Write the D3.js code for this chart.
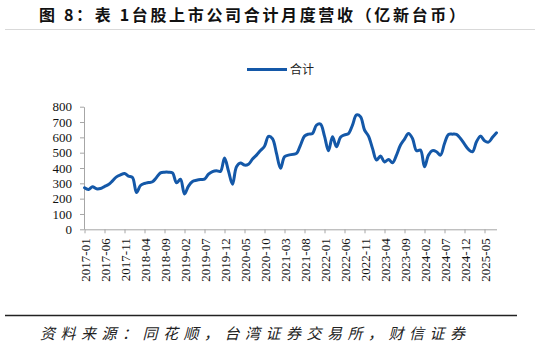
<!DOCTYPE html>
<html><head><meta charset="utf-8">
<script src="https://cdn.jsdelivr.net/npm/d3@7/dist/d3.min.js"></script>
<style>body{margin:0;background:#fff}svg{display:block}
.ax text{font-family:'Liberation Serif','Times New Roman',serif !important;font-size:13px}</style>
</head><body>
<svg id="c" width="539" height="347"></svg>
<script>
const months = ["2017-01","2017-02","2017-03","2017-04","2017-05","2017-06","2017-07","2017-08","2017-09","2017-10","2017-11","2017-12",
"2018-01","2018-02","2018-03","2018-04","2018-05","2018-06","2018-07","2018-08","2018-09","2018-10","2018-11","2018-12",
"2019-01","2019-02","2019-03","2019-04","2019-05","2019-06","2019-07","2019-08","2019-09","2019-10","2019-11","2019-12",
"2020-01","2020-02","2020-03","2020-04","2020-05","2020-06","2020-07","2020-08","2020-09","2020-10","2020-11","2020-12",
"2021-01","2021-02","2021-03","2021-04","2021-05","2021-06","2021-07","2021-08","2021-09","2021-10","2021-11","2021-12",
"2022-01","2022-02","2022-03","2022-04","2022-05","2022-06","2022-07","2022-08","2022-09","2022-10","2022-11","2022-12",
"2023-01","2023-02","2023-03","2023-04","2023-05","2023-06","2023-07","2023-08","2023-09","2023-10","2023-11","2023-12",
"2024-01","2024-02","2024-03","2024-04","2024-05","2024-06","2024-07","2024-08","2024-09","2024-10","2024-11","2024-12",
"2025-01","2025-02","2025-03","2025-04","2025-05","2025-06","2025-07","2025-08"];
const totalRevenue = [271,260,277,264,266,279,292,316,342,355,364,347,
338,240,286,299,305,310,338,368,373,373,368,303,
327,230,282,312,320,325,327,360,377,382,378,465,
380,294,408,432,419,425,458,484,514,542,606,591,
495,398,473,484,489,495,550,608,621,625,680,686,
608,513,604,539,600,616,625,680,746,735,648,608,
528,452,478,439,456,434,484,550,589,625,593,513,
517,408,484,513,506,484,560,619,621,619,593,556,
521,506,571,608,578,569,600,630];
const yTicks = [0,100,200,300,400,500,600,700,800];
const tickLabels = ["2017-01","2017-06","2017-11","2018-04","2018-09","2019-02","2019-07","2019-12","2020-05","2020-10","2021-03","2021-08","2022-01","2022-06","2022-11","2023-04","2023-09","2024-02","2024-07","2024-12","2025-05"];
const seriesName = "合计";
const titleText = "图 8：表 1台股上市公司合计月度营收（亿新台币）";
const sourceText = "资料来源：同花顺，台湾证券交易所，财信证券";

const svg = d3.select("#c");
const x = d3.scalePoint().domain(months).range([84.5, 496.5]);
const y = d3.scaleLinear().domain([0, 800]).range([229.3, 106.7]);

// title
svg.append("text").attr("x", 39).attr("y", 21)
  .attr("font-family", "'Noto Sans CJK SC', sans-serif").attr("font-weight", "bold")
  .attr("font-size", 16).attr("fill", "#111")
  .attr("textLength", 426).attr("lengthAdjust", "spacing").text(titleText);
svg.append("line").attr("x1", 5).attr("x2", 535).attr("y1", 29.5).attr("y2", 29.5)
  .attr("stroke", "#d9d9d9").attr("stroke-width", 1);

// legend
svg.append("line").attr("x1", 247).attr("x2", 287).attr("y1", 69.5).attr("y2", 69.5)
  .attr("stroke", "#1458a8").attr("stroke-width", 3);
svg.append("text").attr("x", 290).attr("y", 74)
  .attr("font-family", "'Noto Sans CJK SC', sans-serif").attr("font-size", 12)
  .attr("fill", "#222").text(seriesName);

// axes
const yAxis = svg.append("g").attr("class", "ax").attr("transform", "translate(84,0)")
  .call(d3.axisLeft(y).tickValues(yTicks).tickSize(4).tickSizeOuter(0).tickPadding(8));
const xAxis = svg.append("g").attr("class", "ax").attr("transform", "translate(0,229.3)")
  .call(d3.axisBottom(x).tickValues(tickLabels).tickSize(4).tickSizeOuter(0).tickPadding(6));
[yAxis, xAxis].forEach(g => {
  g.attr("font-family", null).attr("font-size", null);
  g.select(".domain").attr("stroke", "#a6a6a6");
  g.selectAll(".tick line").attr("stroke", "#a6a6a6");
  g.selectAll("text").attr("fill", "#111");
});
xAxis.selectAll(".tick text")
  .attr("transform", "rotate(-90)")
  .attr("text-anchor", "end").attr("x", -9).attr("y", 0).attr("dy", "0.35em");

// line
svg.append("path").datum(totalRevenue)
  .attr("fill", "none").attr("stroke", "#1458a8").attr("stroke-width", 3)
  .attr("stroke-linejoin", "round").attr("stroke-linecap", "round")
  .attr("d", d3.line().x((d, i) => x(months[i])).y(d => y(d)).curve(d3.curveCatmullRom.alpha(0.5)));

// footer
svg.append("line").attr("x1", 5).attr("x2", 517).attr("y1", 315.5).attr("y2", 315.5)
  .attr("stroke", "#222").attr("stroke-width", 1.5);
svg.append("text").attr("x", 40).attr("y", 339)
  .attr("font-family", "'Noto Sans CJK SC', sans-serif").attr("font-style", "italic")
  .attr("font-size", 15).attr("fill", "#222")
  .attr("textLength", 425).attr("lengthAdjust", "spacing").text(sourceText);
</script>
</body></html>
